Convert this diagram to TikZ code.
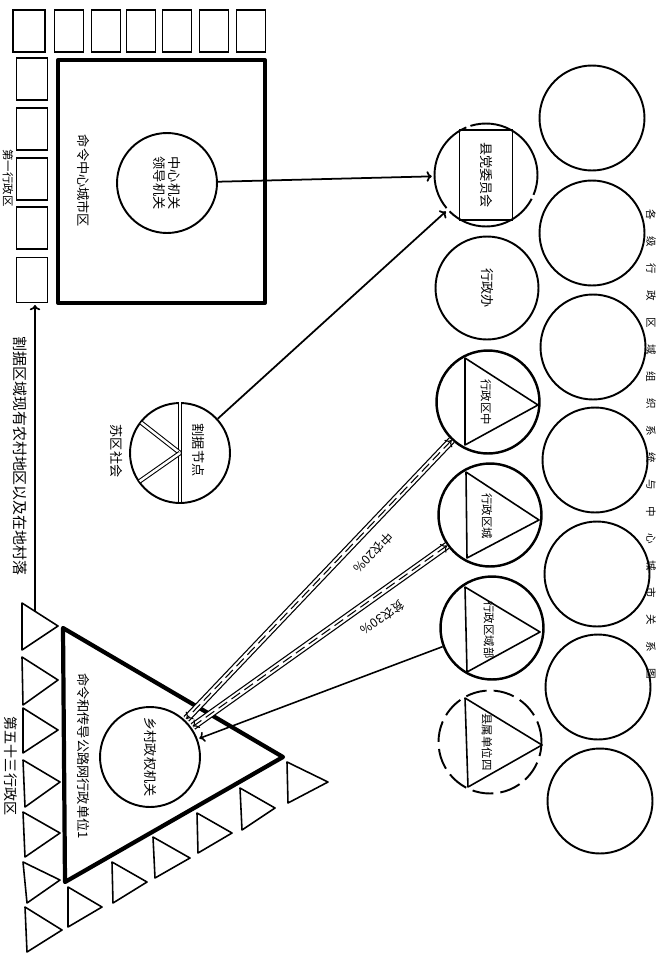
\documentclass[tikz,border=0pt]{standalone}
\usepackage{fontspec}
\setmainfont{Noto Sans CJK SC}
\usetikzlibrary{arrows.meta}

\tikzset{
  ring/.style={circle,draw,line width=1.1pt,inner sep=0pt,minimum size=2.06cm},
  sq/.style={draw,line width=0.9pt,minimum width=0.58cm,minimum height=0.84cm,inner sep=0pt},
  small/.style={line width=0.9pt,line join=round},
  heavy/.style={line width=2.4pt,line join=round},
  road/.style={double,double distance=3pt,line width=0.7pt},
  lane/.style={line width=0.6pt,dash pattern=on 6pt off 3pt},
  gap/.style={double,double distance=1.4pt,line width=0.6pt},
  vtext/.style={rotate=-90,font=\fontsize{7.5}{9}\selectfont,inner sep=1pt,align=center},
}

\begin{document}
\begin{tikzpicture}[x=0.02cm,y=-0.02cm,>={To[length=3pt,width=6pt]},shorten >=1pt]
\useasboundingbox (0,0) rectangle (658,957);

% first district: squares
\node[sq,minimum width=0.64cm] at (29,31) (tsq1) {};
\node[sq] at (69,31) (tsq2) {};
\node[sq] at (106,31) (tsq3) {};
\node[sq] at (141,31) (tsq4) {};
\node[sq] at (177,31) (tsq5) {};
\node[sq] at (214,31) (tsq6) {};
\node[sq] at (251,31) (tsq7) {};
\node[sq,minimum width=0.62cm] at (32,79) (lsq1) {};
\node[sq,minimum width=0.62cm] at (32,129) (lsq2) {};
\node[sq,minimum width=0.62cm] at (32,179) (lsq3) {};
\node[sq,minimum width=0.62cm] at (32,228) (lsq4) {};
\node[sq,minimum width=0.62cm,minimum height=0.9cm] at (32,280) (lsq5) {};
\node[vtext,font=\fontsize{6.5}{8}\selectfont,inner sep=0pt] at (8,178) (firsttag) {第一行政区};

\node[draw,heavy,minimum width=4.14cm,minimum height=4.86cm,inner sep=0pt] at (161.5,181.5) (city) {};
\node[vtext] at (84,181) (citytag) {命令中心城市区};
\node[ring,vtext,minimum size=2cm] at (167,183) (hq) {中心机关\\领导机关};

% middle column
\node[ring,dash pattern=on 55pt off 2.5pt] at (486,175) (county) {};
\node[draw,line width=0.9pt,vtext,minimum width=1.8cm,minimum height=1.06cm] at (486,175) (countybox) {县党委员会};
\node[ring,vtext] at (487,288) (office) {行政办};
\node[ring,line width=1.4pt] at (488,402) (zone1) {};
\node[ring,line width=1.4pt] at (490,515) (zone2) {};
\node[ring,line width=1.4pt] at (492,628) (zone3) {};
\node[ring,dash pattern=on 12pt off 4pt] at (490,742) (zone4) {};
\draw[small] (465,358) -- (538,405) -- (465,445) -- cycle;
\draw[small] (466,472) -- (539,520) -- (467,558) -- cycle;
\draw[small] (465,587) -- (540,632) -- (467,672) -- cycle;
\draw[small] (465,698) -- (542,745) -- (468,787) -- cycle;
\node[vtext,font=\fontsize{6.5}{8}\selectfont] at (486,402) (z1tag) {行政区中};
\node[vtext,font=\fontsize{6.5}{8}\selectfont] at (487,516) (z2tag) {行政区城};
\node[vtext,font=\fontsize{6.5}{8}\selectfont] at (489,630) (z3tag) {行政区域部};
\node[vtext,font=\fontsize{6.5}{8}\selectfont] at (487,742) (z4tag) {县属单位四};

% right column
\node[ring,minimum size=2.1cm] at (592,118) (r1) {};
\node[ring,minimum size=2.1cm] at (592,233) (r2) {};
\node[ring,minimum size=2.1cm] at (593,347) (r3) {};
\node[ring,minimum size=2.1cm] at (595,460) (r4) {};
\node[ring,minimum size=2.1cm] at (597,574) (r5) {};
\node[ring,minimum size=2.1cm] at (598,687) (r6) {};
\node[ring,minimum size=2.1cm] at (600,801) (r7) {};
\foreach \ch [count=\i] in {各,级,行,政,区,域,组,织,系,统,与,中,心,城,市,关,系,图}
  \node[vtext,font=\fontsize{6}{7}\selectfont] at (651,188+\i*27) (edge\i) {\ch};

% base area
\node[ring,minimum size=2cm] at (180,453) (pie) {};
\draw[gap] (pie.north) -- (pie.south);
\draw[gap] (pie.center) -- (pie.142);
\draw[gap] (pie.center) -- (pie.215);
\node[vtext] at (199,450) (pietag) {割据节点};
\node[vtext] at (117,451) (sovtag) {苏区社会};

% countryside
\draw[heavy] (63,628) -- (283,757) -- (65,882) -- cycle;
\node[vtext] at (84,756) (countrytag) {命令和传导公路网行政单位1};
\node[ring,vtext,minimum size=2cm] at (150,757) (village) {乡村政权机关};
\draw[small] (22,603) -- (58,626) -- (22,650) -- cycle;
\draw[small] (22,657) -- (58,680) -- (23,705) -- cycle;
\draw[small] (23,708) -- (58,730) -- (23,753) -- cycle;
\draw[small] (23,760) -- (60,782) -- (25,807) -- cycle;
\draw[small] (23,812) -- (60,833) -- (25,857) -- cycle;
\draw[small] (23,862) -- (60,880) -- (27,903) -- cycle;
\draw[small] (25,907) -- (62,930) -- (27,952) -- cycle;
\draw[small] (68,887) -- (102,907) -- (68,927) -- cycle;
\draw[small] (112,862) -- (147,882) -- (113,903) -- cycle;
\draw[small] (153,837) -- (190,858) -- (155,878) -- cycle;
\draw[small] (197,813) -- (232,833) -- (198,853) -- cycle;
\draw[small] (240,788) -- (275,808) -- (242,830) -- cycle;
\draw[small] (287,762) -- (328,782) -- (288,803) -- cycle;
\node[vtext,font=\fontsize{8}{9}\selectfont] at (11,766) (lasttag) {第五十三行政区};

% links
\draw[->,line width=1pt] (hq) -- (county);
\draw[->,line width=1pt] (pie) -- (county);
\draw[road] (zone1) -- node[sloped,allow upside down,above=5pt,pos=0.35,font=\fontsize{7}{8}\selectfont] {中农20\%} (village);
\draw[lane,<->] (zone1) -- (village);
\draw[road] (zone2) -- node[sloped,allow upside down,above=5pt,pos=0.3,font=\fontsize{7}{8}\selectfont] {贫农30\%} (village);
\draw[lane,<->] (zone2) -- (village);
\draw[->,line width=0.9pt] (zone3) -- (village);
\coordinate (feed) at (35,611);
\draw[->,line width=1pt] (feed) -- (feed |- lsq5.south);
\node[vtext,font=\fontsize{8.5}{10}\selectfont] at (20,456) (feedtag) {割据区域现有农村地区以及在地村落};
\end{tikzpicture}
\end{document}
